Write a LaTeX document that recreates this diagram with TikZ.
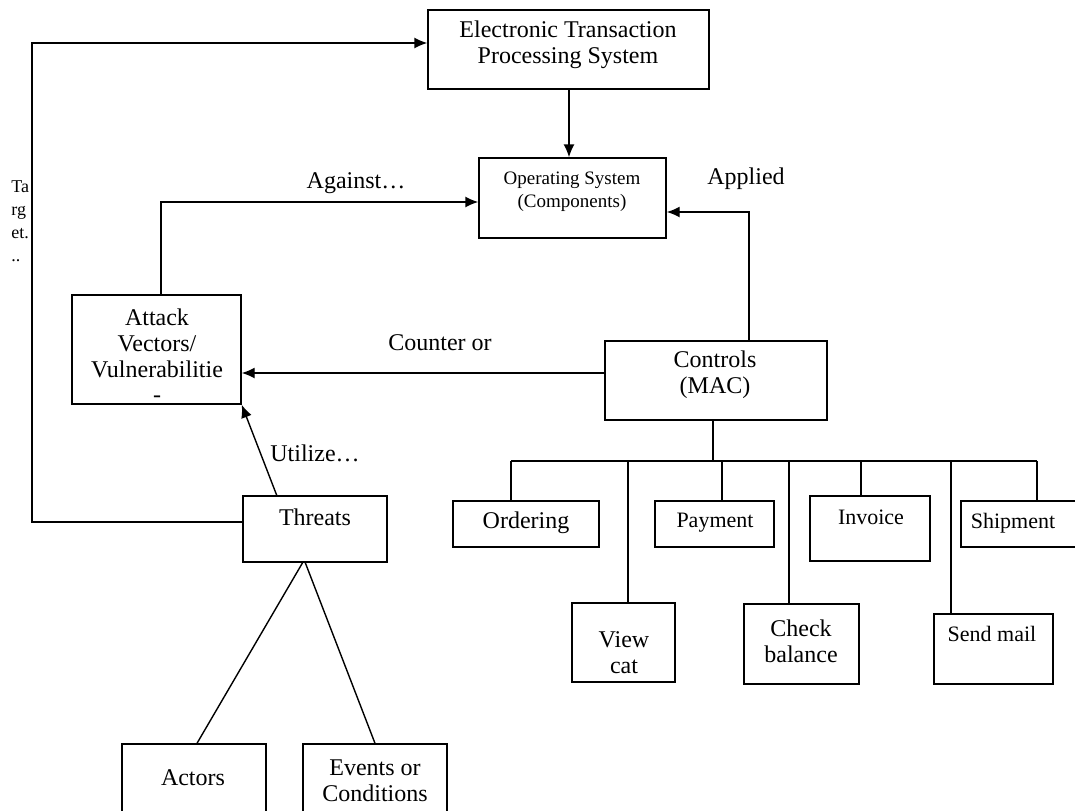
\documentclass[tikz,border=0pt]{standalone}
\usepackage{fontspec}
\setmainfont{Liberation Serif}
\usetikzlibrary{arrows.meta}
\begin{document}
\begin{tikzpicture}[x=0.5pt,y=-0.5pt,
  box/.style={draw, line width=0.7pt, inner sep=0pt},
  txt/.style={inner sep=0pt, align=center, font=\fontsize{12}{13}\selectfont},
  sml/.style={inner sep=0pt, align=center, font=\fontsize{11}{13}\selectfont},
  ln/.style={line width=0.7pt},
  arr/.style={line width=0.7pt, -{Latex[length=6.5pt,width=5.5pt]}}]
\clip (0,0) rectangle (1075,810);
\fill[white] (0,0) rectangle (1075,810);
% boxes
\node[box, minimum width=140.5pt, minimum height=39.5pt] (etps) at (568.5,49.5) {};
\node[box, minimum width=93.5pt, minimum height=40pt] (os) at (572.5,198) {};
\node[box, minimum width=84.5pt, minimum height=54.5pt] (att) at (156.5,349.5) {};
\node[box, minimum width=111pt, minimum height=39.5pt] (ctl) at (716,380.5) {};
\node[box, minimum width=72pt, minimum height=33pt] (thr) at (315,529) {};
\node[box, minimum width=72pt, minimum height=43pt] (act) at (194,787) {};
\node[box, minimum width=72pt, minimum height=43pt] (evt) at (375,787) {};
\node[box, minimum width=73pt, minimum height=23pt] (ord) at (526,524) {};
\node[box, minimum width=51.5pt, minimum height=39.5pt] (vc) at (623.5,642.5) {};
\node[box, minimum width=59.5pt, minimum height=23pt] (pay) at (714.5,524) {};
\node[box, minimum width=57.5pt, minimum height=40pt] (chk) at (801.5,644) {};
\node[box, minimum width=60pt, minimum height=32.5pt] (inv) at (870,528.5) {};
\node[box, minimum width=59.5pt, minimum height=35pt] (sm) at (993.5,649) {};
\node[box, minimum width=64.5pt, minimum height=23pt] (shp) at (1025.5,524) {};
% texts
\node[txt] at (568,45) {Electronic Transaction\\Processing System};
\node[inner sep=0pt, align=center, font=\fontsize{9.5}{11.5}\selectfont] at (572,192) {Operating System\\(Components)};
\node[inner sep=0pt, align=center, font=\fontsize{12}{12.8}\selectfont] at (157,356) {Attack\\Vectors/\\Vulnerabilitie\\-};
\node[txt] at (715,375) {Controls\\(MAC)};
\node[txt] at (315,517) {Threats};
\node[txt] at (193,778) {Actors};
\node[txt] at (375,780.5) {Events or\\Conditions};
\node[txt] at (526,523) {Ordering};
\node[txt] at (624,652.5) {View\\cat};
\node[sml] at (715,523) {Payment};
\node[txt] at (801,641) {Check\\balance};
\node[sml] at (871,517) {Invoice};
\node[sml] at (992,634) {Send mail};
\node[sml] at (1013,523) {Shipment};
% labels
\node[txt] at (356,183) {Against\ldots};
\node[txt] at (746,179) {Applied};
\node[txt] at (440,343) {Counter or};
\node[txt] at (315,453) {Utilize\ldots};
\node[inner sep=0pt, align=left, anchor=north west, font=\fontsize{9}{11.5}\selectfont] at (11,180) {Ta\\rg\\et.\\..};
% coordinates
\coordinate (a1) at (161,202);
\coordinate (c1) at (749,212);
\coordinate (t1) at (277,496);
\coordinate (t2) at (32,522);
\coordinate (t3) at (32,43);
\coordinate (b0) at (713,461);
\coordinate (bl) at (511,461);
\coordinate (br) at (1037,461);
\coordinate (d2) at (628,461);
\coordinate (d3) at (722,461);
\coordinate (d4) at (789,461);
\coordinate (d5) at (861,461);
\coordinate (d6) at (951,461);
\coordinate (tb1) at (303,562);
\coordinate (tb2) at (305,562);
\coordinate (ab) at (197,744);
\coordinate (eb) at (375,744);
% connectors
\draw[arr] (etps.south -| 569,0) -- (os.north -| 569,0);
\draw[arr] (att.north -| a1) -- (a1) -- (os.west |- a1);
\draw[arr] (ctl.north -| c1) -- (c1) -- (os.east |- c1);
\draw[arr] (ctl.west |- 0,373) -- (att.east |- 0,373);
\draw[arr] (t1) -- (att.south east);
\draw[arr] (thr.west |- t2) -- (t2) -- (t3) -- (etps.west |- t3);
\draw[ln] (ctl.south -| b0) -- (b0);
\draw[ln] (bl) -- (br);
\draw[ln] (bl) -- (ord.north -| bl);
\draw[ln] (d2) -- (vc.north -| d2);
\draw[ln] (d3) -- (pay.north -| d3);
\draw[ln] (d4) -- (chk.north -| d4);
\draw[ln] (d5) -- (inv.north -| d5);
\draw[ln] (d6) -- (sm.north -| d6);
\draw[ln] (br) -- (shp.north -| br);
\draw[ln] (tb1) -- (act.north -| ab);
\draw[ln] (tb2) -- (evt.north -| eb);
\end{tikzpicture}
\end{document}
